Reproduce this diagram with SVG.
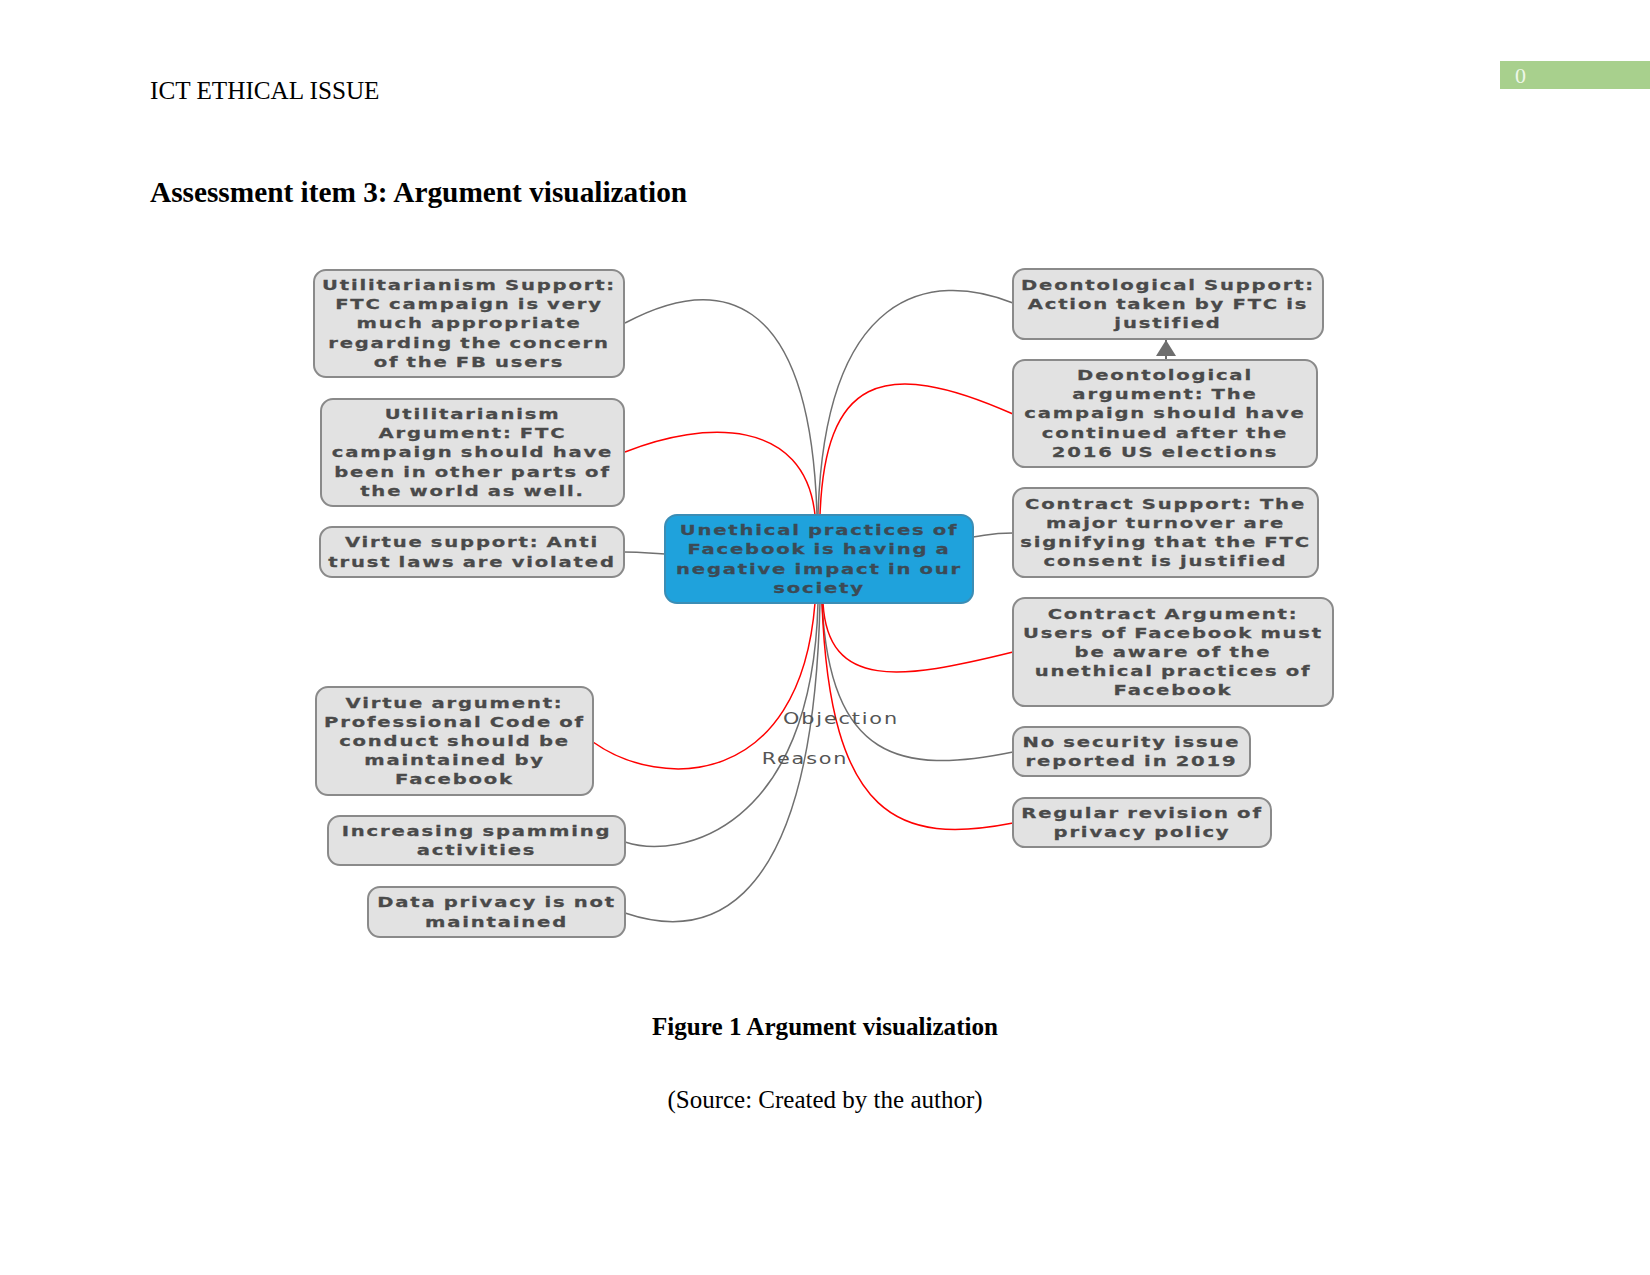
<svg xmlns="http://www.w3.org/2000/svg" width="1650" height="1275" viewBox="0 0 1650 1275">
<defs>
<style>
.doc{font-family:"Liberation Serif","Times New Roman",serif;fill:#000}
.node rect{fill:#e2e2e2;stroke:#8a8a8a;stroke-width:2}
.node text{font-family:"DejaVu Sans",Verdana,sans-serif;font-weight:bold;font-size:14px;letter-spacing:1.3px;word-spacing:-1px;fill:#4a4a4a;stroke:#4a4a4a;stroke-width:0.25;text-anchor:middle}
#center rect{fill:#1fa2dc;stroke:#3b8db5}
#center text{fill:#3c4a55;stroke:#3c4a55}
.c{fill:none;stroke-width:1.5}
.g{stroke:#707070}
.r{stroke:#ff0000}
.lbl{font-family:"DejaVu Sans",Verdana,sans-serif;font-size:16px;letter-spacing:1.4px;fill:#555;text-anchor:middle}
</style>
<marker id="ah2" viewBox="0 0 20 20" refX="18" refY="10" markerWidth="20" markerHeight="20" markerUnits="userSpaceOnUse" orient="auto">
<path d="M2,0 L18,10 L2,20 z" fill="#6e6e6e"/>
</marker>
</defs>
<rect width="1650" height="1275" fill="#fff"/>

<!-- page header -->
<text class="doc" x="150" y="99" font-size="25.2">ICT ETHICAL ISSUE</text>
<rect x="1500" y="61" width="150" height="28" fill="#a8d08d"/>
<text x="1515" y="83" font-family="Liberation Serif,serif" font-size="22" fill="#eef7e8">0</text>
<text class="doc" x="150" y="202" font-size="29.3" font-weight="bold">Assessment item 3: Argument visualization</text>

<!-- connectors -->
<g id="connectors">
<path class="c g" d="M625,323 C715,275 810,285 817,515"/>
<path class="c r" d="M625,452 C705,420 805,418 815,515"/>
<path class="c g" d="M624,552 C645,552 645,553 665,554"/>
<path class="c r" d="M593,742 C660,790 800,790 815,603"/>
<path class="c g" d="M625,842 C680,860 812,830 818,603"/>
<path class="c g" d="M625,913 C690,935 812,940 820,603"/>
<path class="c g" d="M818,515 C825,290 930,270 1013,303"/>
<path class="c r" d="M820,515 C825,380 880,355 1013,414"/>
<path class="c g" d="M973,537 C993,534 993,533 1013,533"/>
<path class="c r" d="M823,603 C828,690 900,680 1013,652"/>
<path class="c g" d="M822,603 C830,760 900,775 1013,752"/>
<path class="c r" d="M822,603 C830,820 900,845 1013,823"/>
<path d="M1166,360 L1166,340" stroke="#6e6e6e" stroke-width="2" fill="none" marker-end="url(#ah2)"/>
<text class="lbl" transform="translate(841 0) scale(1.3 1)" x="0" y="724">Objection</text>
<text class="lbl" transform="translate(805 0) scale(1.3 1)" x="0" y="764">Reason</text>
</g>

<!-- nodes -->
<g id="n1" class="node">
<rect x="314" y="270" width="310" height="107" rx="12"/>
<text transform="translate(469 0) scale(1.4 1)"><tspan x="0" y="290.1">Utilitarianism Support:</tspan><tspan x="0" y="309.3">FTC campaign is very</tspan><tspan x="0" y="328.5">much appropriate</tspan><tspan x="0" y="347.7">regarding the concern</tspan><tspan x="0" y="366.9">of the FB users</tspan></text>
</g>
<g id="n2" class="node">
<rect x="321" y="399" width="303" height="107" rx="12"/>
<text transform="translate(472.5 0) scale(1.4 1)"><tspan x="0" y="419.1">Utilitarianism</tspan><tspan x="0" y="438.3">Argument: FTC</tspan><tspan x="0" y="457.5">campaign should have</tspan><tspan x="0" y="476.7">been in other parts of</tspan><tspan x="0" y="495.9">the world as well.</tspan></text>
</g>
<g id="n3" class="node">
<rect x="320" y="527" width="304" height="50" rx="12"/>
<text transform="translate(472 0) scale(1.4 1)"><tspan x="0" y="547.4">Virtue support: Anti</tspan><tspan x="0" y="566.6">trust laws are violated</tspan></text>
</g>
<g id="n4" class="node">
<rect x="316" y="687" width="277" height="108" rx="12"/>
<text transform="translate(454.5 0) scale(1.4 1)"><tspan x="0" y="707.6">Virtue argument:</tspan><tspan x="0" y="726.8">Professional Code of</tspan><tspan x="0" y="746">conduct should be</tspan><tspan x="0" y="765.2">maintained by</tspan><tspan x="0" y="784.4">Facebook</tspan></text>
</g>
<g id="n5" class="node">
<rect x="328" y="816" width="297" height="49" rx="12"/>
<text transform="translate(476.5 0) scale(1.4 1)"><tspan x="0" y="835.9">Increasing spamming</tspan><tspan x="0" y="855.1">activities</tspan></text>
</g>
<g id="n6" class="node">
<rect x="368" y="887" width="257" height="50" rx="12"/>
<text transform="translate(496.5 0) scale(1.4 1)"><tspan x="0" y="907.4">Data privacy is not</tspan><tspan x="0" y="926.6">maintained</tspan></text>
</g>
<g id="center" class="node">
<rect x="665" y="515" width="308" height="88" rx="12"/>
<text transform="translate(819 0) scale(1.4 1)"><tspan x="0" y="535.2">Unethical practices of</tspan><tspan x="0" y="554.4">Facebook is having a</tspan><tspan x="0" y="573.6">negative impact in our</tspan><tspan x="0" y="592.8">society</tspan></text>
</g>
<g id="n7" class="node">
<rect x="1013" y="269" width="310" height="70" rx="12"/>
<text transform="translate(1168 0) scale(1.4 1)"><tspan x="0" y="289.8">Deontological Support:</tspan><tspan x="0" y="309">Action taken by FTC is</tspan><tspan x="0" y="328.2">justified</tspan></text>
</g>
<g id="n8" class="node">
<rect x="1013" y="360" width="304" height="107" rx="12"/>
<text transform="translate(1165 0) scale(1.4 1)"><tspan x="0" y="380.1">Deontological</tspan><tspan x="0" y="399.3">argument: The</tspan><tspan x="0" y="418.5">campaign should have</tspan><tspan x="0" y="437.7">continued after the</tspan><tspan x="0" y="456.9">2016 US elections</tspan></text>
</g>
<g id="n9" class="node">
<rect x="1013" y="488" width="305" height="89" rx="12"/>
<text transform="translate(1165.5 0) scale(1.4 1)"><tspan x="0" y="508.7">Contract Support: The</tspan><tspan x="0" y="527.9">major turnover are</tspan><tspan x="0" y="547.1">signifying that the FTC</tspan><tspan x="0" y="566.3">consent is justified</tspan></text>
</g>
<g id="n10" class="node">
<rect x="1013" y="598" width="320" height="108" rx="12"/>
<text transform="translate(1173 0) scale(1.4 1)"><tspan x="0" y="618.6">Contract Argument:</tspan><tspan x="0" y="637.8">Users of Facebook must</tspan><tspan x="0" y="657">be aware of the</tspan><tspan x="0" y="676.2">unethical practices of</tspan><tspan x="0" y="695.4">Facebook</tspan></text>
</g>
<g id="n11" class="node">
<rect x="1013" y="727" width="237" height="49" rx="12"/>
<text transform="translate(1131.5 0) scale(1.4 1)"><tspan x="0" y="746.9">No security issue</tspan><tspan x="0" y="766.1">reported in 2019</tspan></text>
</g>
<g id="n12" class="node">
<rect x="1013" y="798" width="258" height="49" rx="12"/>
<text transform="translate(1142 0) scale(1.4 1)"><tspan x="0" y="817.9">Regular revision of</tspan><tspan x="0" y="837.1">privacy policy</tspan></text>
</g>

<!-- caption -->
<text class="doc" x="825" y="1035" font-size="25.1" font-weight="bold" text-anchor="middle">Figure 1 Argument visualization</text>
<text class="doc" x="825" y="1108" font-size="25" text-anchor="middle">(Source: Created by the author)</text>
</svg>
